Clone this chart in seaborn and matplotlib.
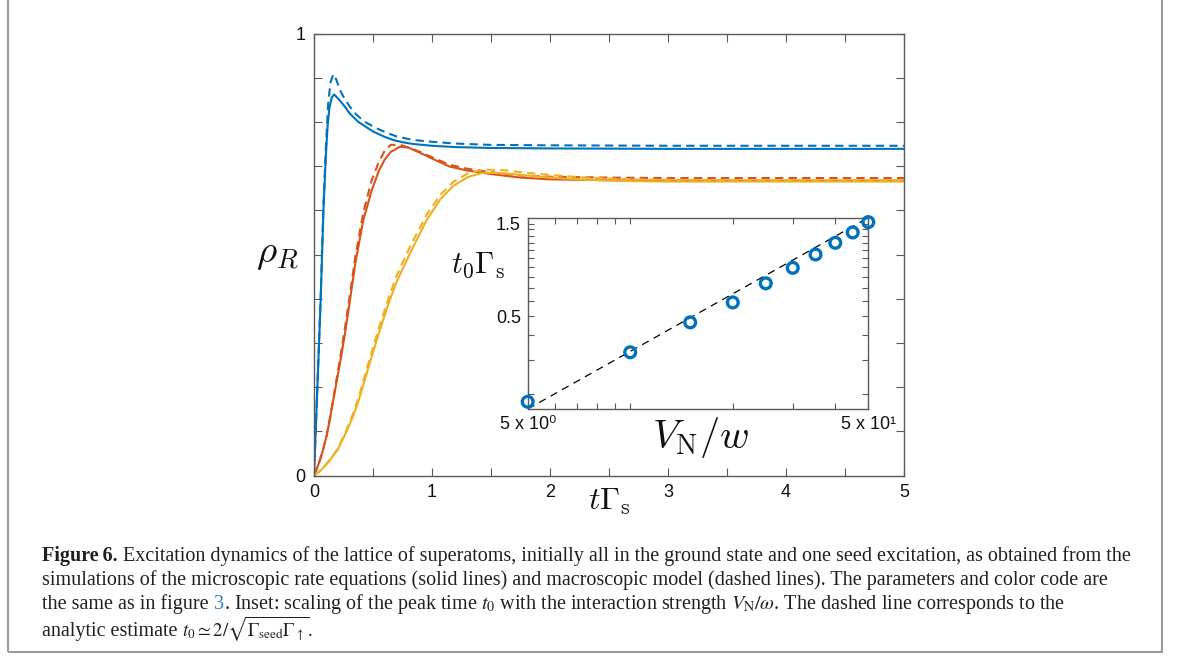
import numpy as np
import pandas as pd
import matplotlib
matplotlib.use("Agg")
import matplotlib.pyplot as plt
import seaborn as sns
from matplotlib.ticker import NullFormatter, FixedFormatter, FixedLocator
from matplotlib.patches import Rectangle

# ---------------- data ----------------
cases = ["case1", "case2", "case3"]
case_colors = ["#0072BD", "#D95319", "#EDB120"]

t_blue_micro = [0, 0.03, 0.057, 0.08, 0.10, 0.115, 0.13, 0.15, 0.17, 0.19, 0.22, 0.263, 0.30, 0.375,
                0.45, 0.503, 0.60, 0.672, 0.75, 0.842, 1.0, 1.2, 1.5, 2.0, 3.0, 4.0, 5.0]
rho_blue_micro = [0, 0.21, 0.40, 0.60, 0.72, 0.79, 0.83, 0.855, 0.862, 0.857, 0.848, 0.834, 0.82, 0.80,
                  0.787, 0.778, 0.766, 0.759, 0.754, 0.750, 0.746, 0.743, 0.741, 0.740, 0.739, 0.739, 0.739]

t_blue_macro = [0, 0.03, 0.057, 0.08, 0.10, 0.12, 0.14, 0.164, 0.19, 0.22, 0.26, 0.305, 0.36, 0.432,
                0.50, 0.559, 0.63, 0.70, 0.842, 1.0, 1.2, 1.5, 2.0, 3.0, 4.0, 5.0]
rho_blue_macro = [0, 0.21, 0.41, 0.61, 0.74, 0.84, 0.89, 0.908, 0.895, 0.872, 0.852, 0.834, 0.816, 0.80,
                  0.79, 0.782, 0.774, 0.767, 0.759, 0.755, 0.751, 0.748, 0.747, 0.746, 0.746, 0.746]

t_orange = [0, 0.037, 0.07, 0.107, 0.135, 0.164, 0.215, 0.263, 0.305, 0.35, 0.418, 0.489, 0.55, 0.60,
            0.65, 0.73, 0.80, 0.90, 1.0, 1.15, 1.3, 1.5, 1.75, 2.0, 2.5, 3.0, 4.0, 5.0]
rho_orange_micro = [0, 0.025, 0.052, 0.09, 0.128, 0.171, 0.246, 0.322, 0.397, 0.48, 0.578, 0.645, 0.69,
                    0.715, 0.732, 0.744, 0.742, 0.730, 0.717, 0.699, 0.690, 0.682, 0.674, 0.670, 0.668,
                    0.667, 0.667, 0.667]
rho_orange_macro = [0, 0.024, 0.051, 0.09, 0.13, 0.175, 0.255, 0.335, 0.41, 0.495, 0.595, 0.668, 0.71,
                    0.735, 0.748, 0.748, 0.742, 0.732, 0.720, 0.703, 0.694, 0.686, 0.679, 0.676, 0.674,
                    0.673, 0.673, 0.673]

t_yellow = [0, 0.06, 0.121, 0.20, 0.277, 0.33, 0.375, 0.46, 0.545, 0.63, 0.70, 0.814, 0.955, 1.07, 1.18,
            1.3, 1.43, 1.6, 1.8, 2.0, 2.3, 2.7, 3.0, 4.0, 5.0]
rho_yellow_micro = [0, 0.012, 0.03, 0.058, 0.10, 0.133, 0.167, 0.243, 0.318, 0.388, 0.438, 0.503, 0.578,
                    0.625, 0.655, 0.675, 0.685, 0.684, 0.679, 0.674, 0.669, 0.666, 0.665, 0.665, 0.665]
rho_yellow_macro = [0, 0.012, 0.031, 0.06, 0.104, 0.139, 0.174, 0.253, 0.33, 0.40, 0.452, 0.518, 0.59,
                    0.635, 0.664, 0.683, 0.692, 0.691, 0.685, 0.680, 0.674, 0.670, 0.669, 0.668, 0.668]

# inset
inset_V = [5, 10, 15, 20, 25, 30, 35, 40, 45, 50]
inset_t0 = [0.182, 0.327, 0.466, 0.590, 0.740, 0.889, 1.041, 1.196, 1.352, 1.528]
estimate_V = [5, 50]
estimate_t0 = [0.167, 1.61]

main_xticks = [0, 1, 2, 3, 4, 5]
main_yticks = [0, 1]
inset_xticklabels = ["5 x 10\u2070", "5 x 10\u00b9"]
inset_yticks = [0.5, 1.5]
inset_yticklabels = ["0.5", "1.5"]

# ---------------- figure ----------------
sns.set_theme(style="white")
plt.rcParams["font.family"] = ["Liberation Sans", "DejaVu Sans"]

W, H = 1179, 669
fig = plt.figure(figsize=(W / 100, H / 100), dpi=100)
fig.patch.set_facecolor("white")


def fax(l, t, r, b):
    return [l / W, 1 - b / H, (r - l) / W, (b - t) / H]


ax = fig.add_axes(fax(314, 33.5, 904, 475.5))

series = [
    ("case1", "micro", t_blue_micro, rho_blue_micro),
    ("case2", "micro", t_orange, rho_orange_micro),
    ("case3", "micro", t_yellow, rho_yellow_micro),
    ("case1", "macro", t_blue_macro, rho_blue_macro),
    ("case2", "macro", t_orange, rho_orange_macro),
    ("case3", "macro", t_yellow, rho_yellow_macro),
]
df = pd.concat(
    [pd.DataFrame({"t": tt, "rho": rr, "case": c, "model": m}) for c, m, tt, rr in series],
    ignore_index=True,
)
sns.lineplot(
    data=df, x="t", y="rho", hue="case", style="model",
    hue_order=cases, palette=case_colors,
    style_order=["micro", "macro"], dashes={"micro": "", "macro": (4, 2.5)},
    estimator=None, sort=False, linewidth=1.5, legend=False, ax=ax,
)

axis_col = "#5a5a5a"
ax.set_xlim(0, 5)
ax.set_ylim(0, 1)
ax.set_xticks(main_xticks)
ax.set_xticks(np.arange(0.5, 5, 1.0), minor=True)
ax.set_yticks(main_yticks)
ax.set_yticks(np.arange(0.1, 0.95, 0.1), minor=True)
ax.tick_params(which="both", direction="in", top=True, right=True, bottom=True, left=True,
               length=6, width=0.8, color=axis_col, labelcolor="#111111", labelsize=13, pad=6)
for s in ax.spines.values():
    s.set_color(axis_col)
    s.set_linewidth(1.0)
ax.set_xlabel(r"$t\Gamma_\mathrm{s}$", fontsize=23, math_fontfamily="cm", color="#111111")
ax.xaxis.set_label_coords(0.5, -0.024)
ax.set_ylabel(r"$\rho_R$", fontsize=28, math_fontfamily="cm", rotation=0,
              ha="center", va="center", color="#111111")
ax.yaxis.set_label_coords(-0.062, 0.50)

# ---------------- inset ----------------
axi = fig.add_axes(fax(527.7, 217.7, 868.3, 409))
axi.set_xscale("log")
axi.set_yscale("log")
sns.lineplot(x=estimate_V, y=estimate_t0, color="black", linewidth=0.9, dashes=(6, 4.5),
             ax=axi, legend=False)
sns.scatterplot(x=inset_V, y=inset_t0, marker="o", s=60, facecolors="none",
                edgecolor="#0072BD", linewidth=2.4, ax=axi, clip_on=False, zorder=5)
axi.set_xlim(5, 50)
axi.set_ylim(0.167, 1.61)
axi.xaxis.set_major_locator(FixedLocator([5, 50]))
axi.xaxis.set_major_formatter(FixedFormatter(inset_xticklabels))
axi.xaxis.set_minor_locator(FixedLocator([6, 7, 8, 9, 10, 20, 30, 40]))
axi.xaxis.set_minor_formatter(NullFormatter())
axi.yaxis.set_major_locator(FixedLocator(inset_yticks))
axi.yaxis.set_major_formatter(FixedFormatter(inset_yticklabels))
axi.yaxis.set_minor_locator(FixedLocator([0.2, 0.3, 0.4, 0.6, 0.7, 0.8, 0.9, 1.0, 1.1, 1.2, 1.3, 1.4]))
axi.yaxis.set_minor_formatter(NullFormatter())
axi.tick_params(which="both", direction="in", top=True, right=True, bottom=True, left=True,
                length=4, width=0.8, color=axis_col, labelcolor="#111111", labelsize=13, pad=5)
for s in axi.spines.values():
    s.set_color(axis_col)
    s.set_linewidth(1.0)
axi.set_facecolor("white")
fig.text(478 / W, 1 - 265 / H, r"$t_0\Gamma_\mathrm{s}$", fontsize=22, math_fontfamily="cm",
         ha="center", va="center", color="#111111")
fig.text(701 / W, 1 - 437 / H, r"$V_\mathrm{N}/w$", fontsize=29, math_fontfamily="cm",
         ha="center", va="center", color="#111111")

# ---------------- caption ----------------
serif = ["Liberation Serif", "DejaVu Serif"]
cap_size = 14.5
cap_col = "#231f20"
x0 = 42 / W
sp = 3.6  # space width in points


def piece(prev, txt, y, gap=0.0, size=cap_size, **kw):
    kw.setdefault("color", cap_col)
    return ax.annotate(
        txt, xy=(1, y), xycoords=(prev, "figure fraction"), xytext=(gap, 0),
        textcoords="offset points", va="baseline", ha="left", fontsize=size,
        family=serif, math_fontfamily="stix", annotation_clip=False, **kw)


y1 = 1 - 561 / H
y2 = 1 - 585 / H
y3 = 1 - 609 / H
y4 = 1 - 636 / H
t1 = fig.text(x0, y1, "Figure\u20096.", fontsize=cap_size, family=serif, fontweight="bold",
              va="baseline", ha="left", color=cap_col)
piece(t1, "Excitation dynamics of the lattice of superatoms, initially all in the ground state and one "
          "seed excitation, as obtained from the", y1, gap=sp)
fig.text(x0, y2, "simulations of the microscopic rate equations (solid lines) and macroscopic model "
                 "(dashed lines). The parameters and color code are",
         fontsize=cap_size, family=serif, va="baseline", ha="left", color=cap_col)
t3 = fig.text(x0, y3, "the same as in figure", fontsize=cap_size, family=serif, va="baseline",
              ha="left", color=cap_col)
t3b = piece(t3, "3", y3, gap=sp, color="#2f7fc1")
piece(t3b, r". Inset: scaling of the peak time $t_0$ with the interaction strength "
           r"$V_\mathrm{N}/\omega$. The dashed line corresponds to the", y3, gap=0)
t4 = fig.text(x0, y4, "analytic estimate", fontsize=cap_size, family=serif, va="baseline",
              ha="left", color=cap_col)
piece(t4, r"$t_0 \simeq 2/\sqrt{\Gamma_\mathrm{seed}\Gamma_\uparrow}$.", y4, gap=sp, size=13.5)

# frame around figure + caption
fig.add_artist(Rectangle((8 / W, 1 - 652 / H), (1162 - 8) / W, 652 / H + 0.01,
                         transform=fig.transFigure, fill=False, edgecolor="#9a9a9a",
                         linewidth=1.5, clip_on=False))

fig.savefig("out.png", dpi=100, facecolor="white")
